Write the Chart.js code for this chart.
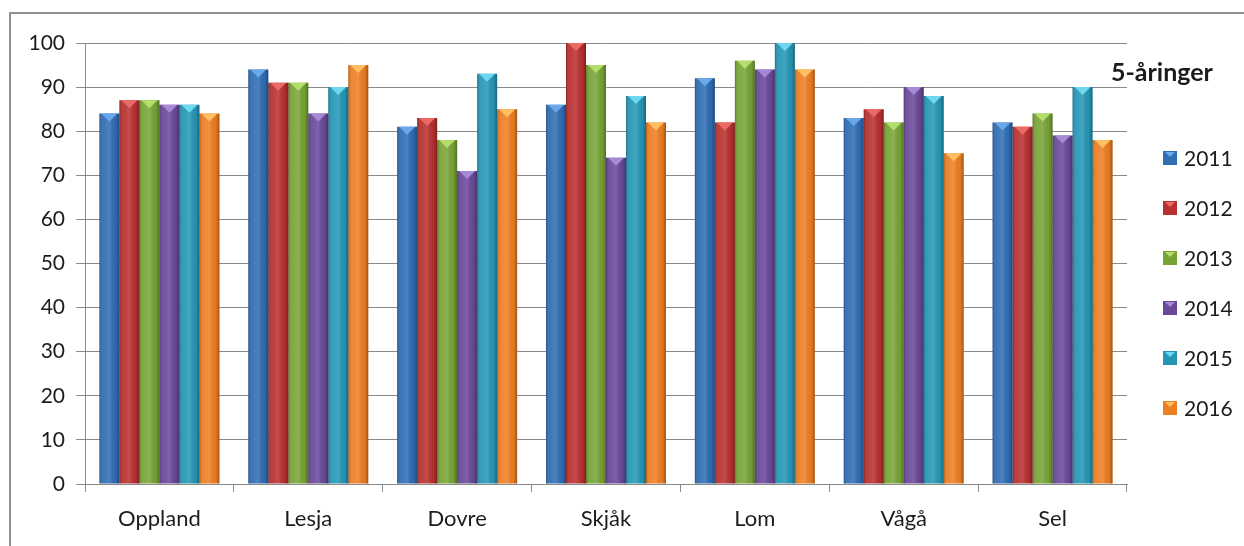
<!DOCTYPE html>
<html>
<head>
<meta charset="utf-8">
<script src="https://cdn.jsdelivr.net/npm/chart.js@4"></script>
<style>
    html, body { margin: 0; padding: 0; background: #fff; }
    body { width: 1244px; height: 546px; overflow: hidden; position: relative; }
    #frame {
        position: absolute; left: 9px; top: 12px; width: 1240px; height: 540px;
        border-left: 2px solid #8f8f8f; border-top: 2px solid #8f8f8f;
    }
    #wrap { position: absolute; left: 11px; top: 14px; width: 1233px; height: 532px; }
</style>
</head>
<body>
<div id="frame"></div>
<div id="wrap"><canvas id="chart"></canvas></div>
<script>
// Data
const categories = ['Oppland', 'Lesja', 'Dovre', 'Skjåk', 'Lom', 'Vågå', 'Sel'];
const years = ['2011', '2012', '2013', '2014', '2015', '2016'];
const v2011 = [84, 94, 81, 86, 92, 83, 82];
const v2012 = [87, 91, 83, 100, 82, 85, 81];
const v2013 = [87, 91, 78, 95, 96, 82, 84];
const v2014 = [86, 84, 71, 74, 94, 90, 79];
const v2015 = [86, 90, 93, 88, 100, 88, 90];
const v2016 = [84, 95, 85, 82, 94, 75, 78];
const yTicks = [0, 10, 20, 30, 40, 50, 60, 70, 80, 90, 100];
const legendTitle = '5-åringer';

const series = [v2011, v2012, v2013, v2014, v2015, v2016];
const faceColors = ['#2f6db4', '#b8302f', '#78a436', '#69489a', '#2597b6', '#ee7e22'];
const topColors = ['#6aa8ec', '#ec6a66', '#b3de6a', '#a889d8', '#6fd7ef', '#ffbf62'];

const FONT = 'Lato';
const TEXT = '#1c1c1c';

// pseudo 3D look: side shading plus a small bevel triangle on top of each bar
const bevelPlugin = {
    id: 'bevel',
    afterDatasetsDraw(chart) {
        const ctx = chart.ctx;
        chart.data.datasets.forEach((ds, di) => {
            const meta = chart.getDatasetMeta(di);
            meta.data.forEach(bar => {
                const w = bar.width;
                const left = bar.x - w / 2;
                const top = bar.y;
                const h = bar.base - bar.y;
                const g = ctx.createLinearGradient(left, 0, left + w, 0);
                g.addColorStop(0, 'rgba(0,0,0,0.26)');
                g.addColorStop(0.18, 'rgba(255,255,255,0.06)');
                g.addColorStop(0.5, 'rgba(255,255,255,0.14)');
                g.addColorStop(0.82, 'rgba(0,0,0,0.04)');
                g.addColorStop(1, 'rgba(0,0,0,0.32)');
                ctx.save();
                ctx.fillStyle = g;
                ctx.fillRect(left, top, w, h);
                ctx.fillStyle = topColors[di];
                ctx.beginPath();
                ctx.moveTo(left + 2, top);
                ctx.lineTo(left + w - 2, top);
                ctx.lineTo(bar.x, top + 8);
                ctx.closePath();
                ctx.fill();
                ctx.restore();
            });
        });
    }
};

// legend on the right, drawn by hand so it sits where the original has it
const sideLegend = {
    id: 'sideLegend',
    afterDraw(chart) {
        const ctx = chart.ctx;
        ctx.save();
        ctx.fillStyle = TEXT;
        ctx.font = 'bold 25px ' + FONT;
        ctx.textBaseline = 'middle';
        ctx.textAlign = 'left';
        ctx.fillText(legendTitle, 1100, 59);
        ctx.font = '21px ' + FONT;
        years.forEach((y, i) => {
            const cy = 144 + i * 50;
            const sx = 1152, s = 14;
            ctx.fillStyle = faceColors[i];
            ctx.fillRect(sx, cy - s / 2, s, s);
            ctx.fillStyle = topColors[i];
            ctx.beginPath();
            ctx.moveTo(sx + 2, cy - s / 2 + 1);
            ctx.lineTo(sx + s - 2, cy - s / 2 + 1);
            ctx.lineTo(sx + s / 2, cy - s / 2 + 6);
            ctx.closePath();
            ctx.fill();
            ctx.fillStyle = TEXT;
            ctx.fillText(y, 1173, cy + 1);
        });
        ctx.restore();
    }
};

new Chart(document.getElementById('chart'), {
    type: 'bar',
    data: {
        labels: categories,
        datasets: years.map((y, i) => ({
            label: y,
            data: series[i],
            backgroundColor: faceColors[i],
            borderWidth: 0,
            categoryPercentage: 0.806,
            barPercentage: 1
        }))
    },
    options: {
        responsive: true,
        maintainAspectRatio: false,
        animation: false,
        layout: { padding: { left: 0, top: 29, right: 117, bottom: 0 } },
        plugins: {
            legend: { display: false },
            tooltip: { enabled: false }
        },
        scales: {
            x: {
                grid: {
                    offset: true,
                    drawOnChartArea: false,
                    drawTicks: true,
                    tickLength: 8,
                    color: '#8a8a8a'
                },
                border: { color: '#8a8a8a', width: 1 },
                ticks: {
                    font: { family: FONT, size: 22 },
                    color: TEXT,
                    padding: 14
                },
                afterFit(scale) { scale.height = 62; }
            },
            y: {
                min: 0,
                max: 100,
                afterBuildTicks(scale) { scale.ticks = yTicks.map(v => ({ value: v })); },
                grid: {
                    color: '#8a8a8a',
                    tickLength: 9,
                    drawTicks: true
                },
                border: { color: '#8a8a8a', width: 1 },
                ticks: {
                    font: { family: FONT, size: 21 },
                    color: TEXT,
                    padding: 11
                },
                afterFit(scale) { scale.width = 74; }
            }
        }
    },
    plugins: [bevelPlugin, sideLegend]
});
</script>
</body>
</html>
